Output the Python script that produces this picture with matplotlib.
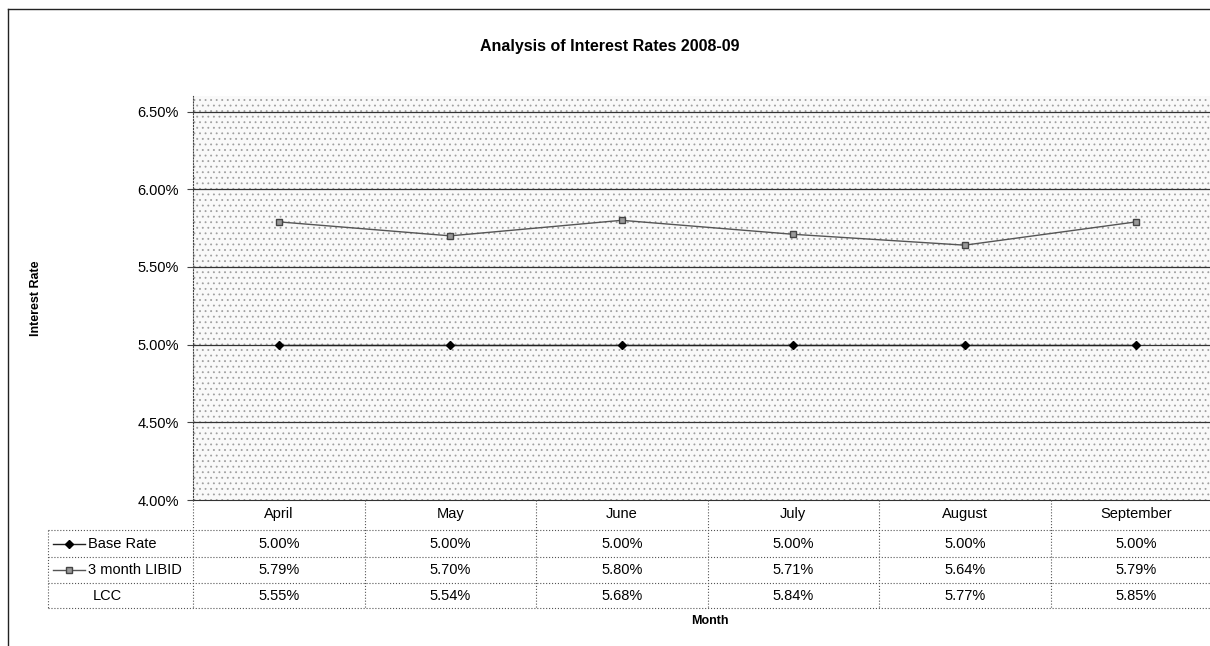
import matplotlib.pyplot as plt
from matplotlib.lines import Line2D

plt.rcParams['font.family'] = ['Liberation Sans', 'DejaVu Sans']
plt.rcParams['hatch.linewidth'] = 0.6

# monthly rates, %
months = ['April', 'May', 'June', 'July', 'August', 'September']
base_rate = [5.00, 5.00, 5.00, 5.00, 5.00, 5.00]
libid_3m = [5.79, 5.70, 5.80, 5.71, 5.64, 5.79]
lcc = [5.55, 5.54, 5.68, 5.84, 5.77, 5.85]
series_names = ['Base Rate', '3 month LIBID', 'LCC']
y_ticks = [4.0, 4.5, 5.0, 5.5, 6.0, 6.5]

W, H = 1210, 646
fig = plt.figure(figsize=(W / 100, H / 100), dpi=100)

# plot area in pixels
px_left, px_top, px_bottom = 193, 96, 500
col_w = 171.5
px_right = px_left + col_w * len(months)

ax = fig.add_axes([px_left / W, 1 - px_bottom / H,
                   (px_right - px_left) / W, (px_bottom - px_top) / H])
ax.set_facecolor('#f9f9f9')
ax.patch.set_hatch('...')
ax.patch.set_edgecolor('#a0a0a0')
ax.patch.set_linewidth(0)

x = list(range(len(months)))
ax.plot(x, base_rate, color='#222222', lw=1.0, marker='D', ms=4.5,
        mfc='black', mec='black')
ax.plot(x, libid_3m, color='#555555', lw=1.0, marker='s', ms=5,
        mfc='#9a9a9a', mec='#444444')

ax.set_xlim(-0.5, len(months) - 0.5)
ax.set_ylim(4.0, 6.6)
ax.set_yticks(y_ticks)
ax.set_yticklabels([f'{v:.2f}%' for v in y_ticks], fontsize=10.5)
ax.set_xticks([])
for v in y_ticks[1:]:
    ax.axhline(v, color='#333333', lw=0.9, zorder=1)
for s in ['top', 'right']:
    ax.spines[s].set_visible(False)
ax.spines['left'].set_linestyle(':')
ax.spines['left'].set_color('#444444')
ax.spines['bottom'].set_color('#333333')
ax.tick_params(axis='y', length=4, width=0.8, color='#444444', pad=6)

ax.set_ylabel('Interest Rate', fontsize=9, fontweight='bold', labelpad=0)
ax.yaxis.set_label_coords((42 - px_left) / (px_right - px_left), 0.5)

# overlay in pixel coordinates for frame, title and data table
ov = fig.add_axes([0, 0, 1, 1])
ov.set_xlim(0, W)
ov.set_ylim(H, 0)
ov.axis('off')
ov.patch.set_alpha(0)

ov.plot([8, 8], [9, H], color='#222222', lw=1.0)
ov.plot([8, W], [9, 9], color='#222222', lw=1.0)

ov.text(610, 47, 'Analysis of Interest Rates 2008-09', ha='center', va='center',
        fontsize=11.5, fontweight='bold')

row_y = [500, 530, 557, 583, 608]
tbl_left = 48
dot = dict(color='#555555', lw=0.8, ls=':')

# month header
for i, m in enumerate(months):
    ov.text(px_left + col_w * (i + 0.5), 514, m, ha='center', va='center', fontsize=10.5)
for i in range(len(months) + 1):
    xv = px_left + col_w * i
    ov.plot([xv, xv], [row_y[0], row_y[-1]], **dot)
for yv in row_y[1:]:
    ov.plot([tbl_left, px_right], [yv, yv], **dot)
ov.plot([tbl_left, tbl_left], [row_y[1], row_y[-1]], **dot)

rows = [base_rate, libid_3m, lcc]
for r, (name, vals) in enumerate(zip(series_names, rows)):
    yc = (row_y[r + 1] + row_y[r + 2]) / 2
    if r == 0:
        ov.add_line(Line2D([53, 85], [yc, yc], color='#222222', lw=1.0))
        ov.plot([69], [yc], marker='D', ms=4.5, color='black')
        ov.text(88, yc, name, ha='left', va='center', fontsize=10.5)
    elif r == 1:
        ov.add_line(Line2D([53, 85], [yc, yc], color='#555555', lw=1.0))
        ov.plot([69], [yc], marker='s', ms=4.5, mfc='#9a9a9a', mec='#444444')
        ov.text(88, yc, name, ha='left', va='center', fontsize=10.5)
    else:
        ov.text(93, yc, name, ha='left', va='center', fontsize=10.5)
    for i, v in enumerate(vals):
        ov.text(px_left + col_w * (i + 0.5), yc, f'{v:.2f}%', ha='center',
                va='center', fontsize=10.5)

ov.text(710, 621, 'Month', ha='center', va='center', fontsize=9, fontweight='bold')

fig.savefig('out.png', dpi=100)
